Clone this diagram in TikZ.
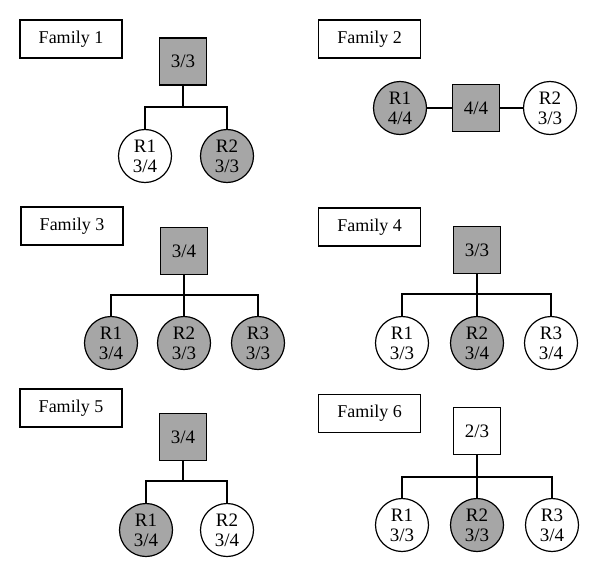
\documentclass[tikz,border=0pt]{standalone}
\usepackage{fontspec}
\setmainfont{Liberation Serif}
\definecolor{famgray}{RGB}{166,166,166}

\begin{document}
\begin{tikzpicture}[x=1pt, y=-1pt, line width=1.2pt,
    every node/.style={font=\fontsize{19}{20}\selectfont},
    famlabel/.style={draw, minimum width=102pt, minimum height=38pt, inner sep=0pt, font=\fontsize{18}{20}\selectfont},
    parent/.style={draw, minimum size=47pt, inner sep=0pt},
    child/.style={draw, circle, minimum size=53pt, inner sep=0pt, align=center},
    affected/.style={fill=famgray}]
            \useasboundingbox (0,0) rectangle (600,578);
            \node[famlabel] (f1) at (71,39) {Family 1};
            \node[parent, affected] (p1) at (183,61.5) {3/3};
            \node[child] (f1r1) at (145,156) {R1\\3/4};
            \node[child, affected] (f1r2) at (227,156) {R2\\3/3};
            \coordinate (b1) at (183,107);
            \draw (p1.south) -- (b1);
            \draw (f1r1.north) |- (b1) -| (f1r2.north);
            \node[famlabel] (f2) at (369.5,39) {Family 2};
            \node[parent, affected] (p2) at (476,108) {4/4};
            \node[child, affected] (f2r1) at (400,108) {R1\\4/4};
            \node[child] (f2r2) at (550,108) {R2\\3/3};
            \draw (f2r1.east) -- (p2.west);
            \draw (p2.east) -- (f2r2.west);
            \node[famlabel] (f3) at (72,226) {Family 3};
            \node[parent, affected] (p3) at (184,251) {3/4};
            \node[child, affected] (f3r1) at (111,343) {R1\\3/4};
            \node[child, affected] (f3r2) at (184,343) {R2\\3/3};
            \node[child, affected] (f3r3) at (258,343) {R3\\3/3};
            \coordinate (b3) at (184,295);
            \draw (p3.south) -- (f3r2.north);
            \draw (f3r1.north) |- (b3) -| (f3r3.north);
            \node[famlabel] (f4) at (369.5,227) {Family 4};
            \node[parent, affected] (p4) at (477,250) {3/3};
            \node[child] (f4r1) at (402,343) {R1\\3/3};
            \node[child, affected] (f4r2) at (477,343) {R2\\3/4};
            \node[child] (f4r3) at (551,343) {R3\\3/4};
            \coordinate (b4) at (477,294);
            \draw (p4.south) -- (f4r2.north);
            \draw (f4r1.north) |- (b4) -| (f4r3.north);
            \node[famlabel] (f5) at (71,408) {Family 5};
            \node[parent, affected] (p5) at (183,437) {3/4};
            \node[child, affected] (f5r1) at (146,530) {R1\\3/4};
            \node[child] (f5r2) at (227,530) {R2\\3/4};
            \coordinate (b5) at (183,481);
            \draw (p5.south) -- (b5);
            \draw (f5r1.north) |- (b5) -| (f5r2.north);
            \node[famlabel] (f6) at (369.5,413.5) {Family 6};
            \node[parent] (p6) at (477,431) {2/3};
            \node[child] (f6r1) at (402,525) {R1\\3/3};
            \node[child, affected] (f6r2) at (477,525) {R2\\3/3};
            \node[child] (f6r3) at (552,525) {R3\\3/4};
            \coordinate (b6) at (477,477);
            \draw (p6.south) -- (f6r2.north);
            \draw (f6r1.north) |- (b6) -| (f6r3.north);
        \end{tikzpicture}
\end{document}
